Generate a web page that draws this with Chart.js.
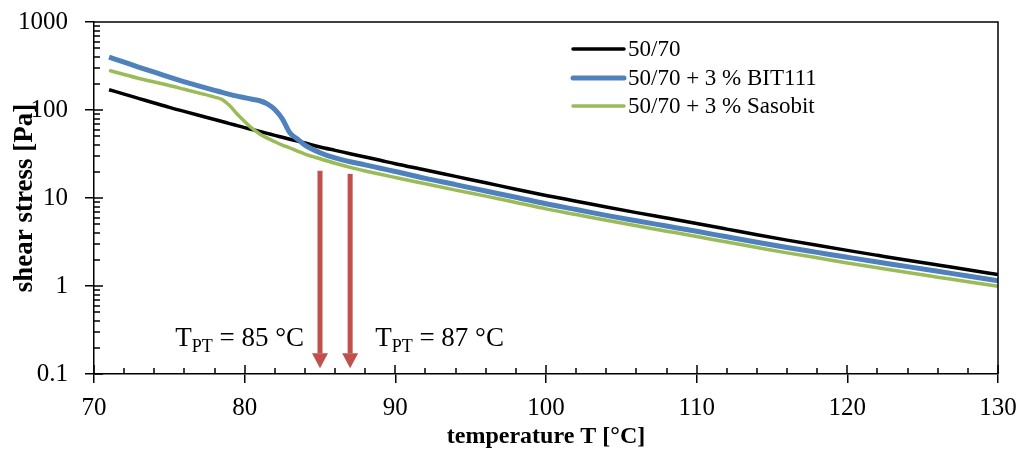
<!DOCTYPE html>
<html>
<head>
<meta charset="utf-8">
<script src="https://cdn.jsdelivr.net/npm/chart.js@4.4.0/dist/chart.umd.min.js"></script>
<style>
html,body{margin:0;padding:0;background:#fff;}
</style>
</head>
<body>
<canvas id="c" width="1034" height="452"></canvas>
<script>
// temperature [°C]
var temps = [71,72,73,74,75,76,77,78,78.5,79,79.5,80,80.5,81,81.5,82,82.5,83,83.5,84,85,86,87,88,89,90,92,94,96,98,100,102,104,106,108,110,112,114,116,118,120,122,124,126,128,130];
// shear stress [Pa]
var base5070 = [170,151.4,134.9,120.2,107.2,96.4,86.7,78.0,74.0,70.1,66.5,63.1,60.0,57.0,54.2,51.5,49.0,46.6,44.3,42.1,38.0,34.8,31.9,29.2,26.8,24.5,20.8,17.6,14.9,12.6,10.7,9.2,7.9,6.82,5.92,5.13,4.43,3.82,3.32,2.90,2.54,2.23,1.96,1.73,1.53,1.35];
var bit111 = [398,349,306,269,236,209,187,167.5,158.5,150.7,143.9,138,132.4,127.4,117.5,101.2,79.4,55,46.8,39.8,32.7,28.5,25.8,23.8,21.8,20.0,16.7,14.2,12.0,10.2,8.6,7.4,6.35,5.51,4.80,4.18,3.62,3.14,2.74,2.41,2.12,1.87,1.66,1.47,1.30,1.15];
var sasobit = [282,253.5,228,208,190,172,155.6,140.3,131.8,112.2,90.2,74.1,61.7,53.5,47.9,43.6,40.0,37.0,34.1,31.6,27.9,24.8,22.3,20.3,18.6,17.1,14.5,12.3,10.5,8.9,7.53,6.49,5.58,4.83,4.20,3.65,3.16,2.74,2.38,2.09,1.83,1.61,1.42,1.26,1.12,0.99];
var seriesNames = ['50/70', '50/70 + 3 % BIT111', '50/70 + 3 % Sasobit'];
var xTicks = [70,80,90,100,110,120,130];
var yTicks = [0.1,1,10,100,1000];
// phase transition temperatures + arrow ends (in Pa)
var tptValues = [85, 87];
var arrowTop = [20.4, 18.8];
var arrowTip = 0.116;

var serif = '"Liberation Serif", "Times New Roman", serif';

function pts(arr){
    return temps.map(function(t, i){ return {x: t, y: arr[i]}; });
}

function drawTpt(ctx, x, base, temp, alignRight){
    var big = '27px ' + serif, small = '18px ' + serif;
    var rest = ' = ' + temp + ' \u00B0C';
    ctx.font = big;
    var w1 = ctx.measureText('T').width, w3 = ctx.measureText(rest).width;
    ctx.font = small;
    var w2 = ctx.measureText('PT').width;
    if(alignRight) x = x - (w1 + w2 + w3);
    ctx.textAlign = 'left';
    ctx.textBaseline = 'alphabetic';
    ctx.font = big;
    ctx.fillText('T', x, base);
    ctx.font = small;
    ctx.fillText('PT', x + w1, base + 6);
    ctx.font = big;
    ctx.fillText(rest, x + w1 + w2, base);
}

var decor = {
    id: 'decor',
    afterDraw: function(chart){
        var ctx = chart.ctx, a = chart.chartArea;
        var xs = chart.scales.x, ys = chart.scales.y;
        ctx.save();
        ctx.strokeStyle = '#000';
        ctx.lineWidth = 1.5;
        //frame top + right
        ctx.beginPath();
        ctx.moveTo(a.left, a.top);
        ctx.lineTo(a.right, a.top);
        ctx.lineTo(a.right, a.bottom);
        ctx.stroke();
        //inner ticks on x
        ctx.beginPath();
        for(var v = 70; v <= 130; v += 2){
            var px = Math.round(xs.getPixelForValue(v));
            ctx.moveTo(px, a.bottom);
            ctx.lineTo(px, a.bottom - (v % 10 === 0 ? 9 : 6));
        }
        //inner ticks on y (log minor)
        for(var d = 0.1; d < 1000; d *= 10){
            for(var m = 1; m <= 9; m++){
                var py = Math.round(ys.getPixelForValue(d * m));
                ctx.moveTo(a.left, py);
                ctx.lineTo(a.left + (m === 1 ? 9 : 6), py);
            }
        }
        ctx.stroke();

        //red arrows
        ctx.fillStyle = '#C0504D';
        for(var i = 0; i < tptValues.length; i++){
            var x = xs.getPixelForValue(tptValues[i]);
            var y0 = ys.getPixelForValue(arrowTop[i]);
            var y1 = ys.getPixelForValue(arrowTip);
            ctx.fillRect(x - 2.5, y0, 5, y1 - 15 - y0);
            ctx.beginPath();
            ctx.moveTo(x - 8, y1 - 15);
            ctx.lineTo(x + 8, y1 - 15);
            ctx.lineTo(x, y1);
            ctx.closePath();
            ctx.fill();
        }

        //labels
        ctx.fillStyle = '#000';
        drawTpt(ctx, xs.getPixelForValue(tptValues[0]) - 16, 346, tptValues[0], true);
        drawTpt(ctx, xs.getPixelForValue(tptValues[1]) + 25, 346, tptValues[1], false);

        //legend
        var rows = [49, 78, 106];
        chart.data.datasets.forEach(function(ds, k){
            ctx.strokeStyle = ds.borderColor;
            ctx.lineWidth = ds.borderWidth;
            ctx.lineCap = 'round';
            ctx.beginPath();
            ctx.moveTo(573, rows[k]);
            ctx.lineTo(624, rows[k]);
            ctx.stroke();
            ctx.fillStyle = '#000';
            ctx.font = '23px ' + serif;
            ctx.textBaseline = 'middle';
            ctx.textAlign = 'left';
            ctx.fillText(ds.label, 628, rows[k] + 1);
        });
        ctx.restore();
    }
};

var chart = new Chart(document.getElementById('c'), {
    type: 'line',
    data: {
        datasets: [
            {label: seriesNames[0], data: pts(base5070), borderColor: '#000000', borderWidth: 3.5, order: 3},
            {label: seriesNames[1], data: pts(bit111), borderColor: '#4F81BD', borderWidth: 5, order: 2},
            {label: seriesNames[2], data: pts(sasobit), borderColor: '#9BBB59', borderWidth: 3.5, order: 1}
        ]
    },
    options: {
        responsive: false,
        animation: false,
        layout: {padding: {top: 22, right: 36, left: 0, bottom: 0}},
        plugins: {legend: {display: false}, tooltip: {enabled: false}},
        elements: {point: {radius: 0}, line: {cubicInterpolationMode: 'monotone', fill: false}},
        scales: {
            x: {
                type: 'linear', min: 70, max: 130,
                afterBuildTicks: function(s){ s.ticks = xTicks.map(function(v){ return {value: v}; }); },
                afterFit: function(s){ s.height = 78; s.paddingLeft = 0; s.paddingRight = 0; },
                grid: {drawOnChartArea: false, color: '#000', tickLength: 9, lineWidth: 1.5},
                border: {color: '#000', width: 1.5},
                ticks: {color: '#000', font: {family: serif, size: 25}, padding: 10, maxRotation: 0},
                title: {display: true, text: 'temperature T [\u00B0C]', color: '#000',
                    font: {family: serif, size: 24, weight: 'bold'}, padding: {top: 0, bottom: 1}}
            },
            y: {
                type: 'logarithmic', min: 0.1, max: 1000,
                afterBuildTicks: function(s){ s.ticks = yTicks.map(function(v){ return {value: v}; }); },
                afterFit: function(s){ s.width = 94; s.paddingTop = 0; s.paddingBottom = 0; },
                grid: {drawOnChartArea: false, color: '#000', tickLength: 9, lineWidth: 1.5},
                border: {color: '#000', width: 1.5},
                ticks: {color: '#000', font: {family: serif, size: 25}, padding: 17,
                    callback: function(v){ return String(v); }},
                title: {display: true, text: 'shear stress [Pa]', color: '#000',
                    font: {family: serif, size: 27, weight: 'bold'}, padding: {top: 9, bottom: 9}}
            }
        }
    },
    plugins: [decor]
});
</script>
</body>
</html>
